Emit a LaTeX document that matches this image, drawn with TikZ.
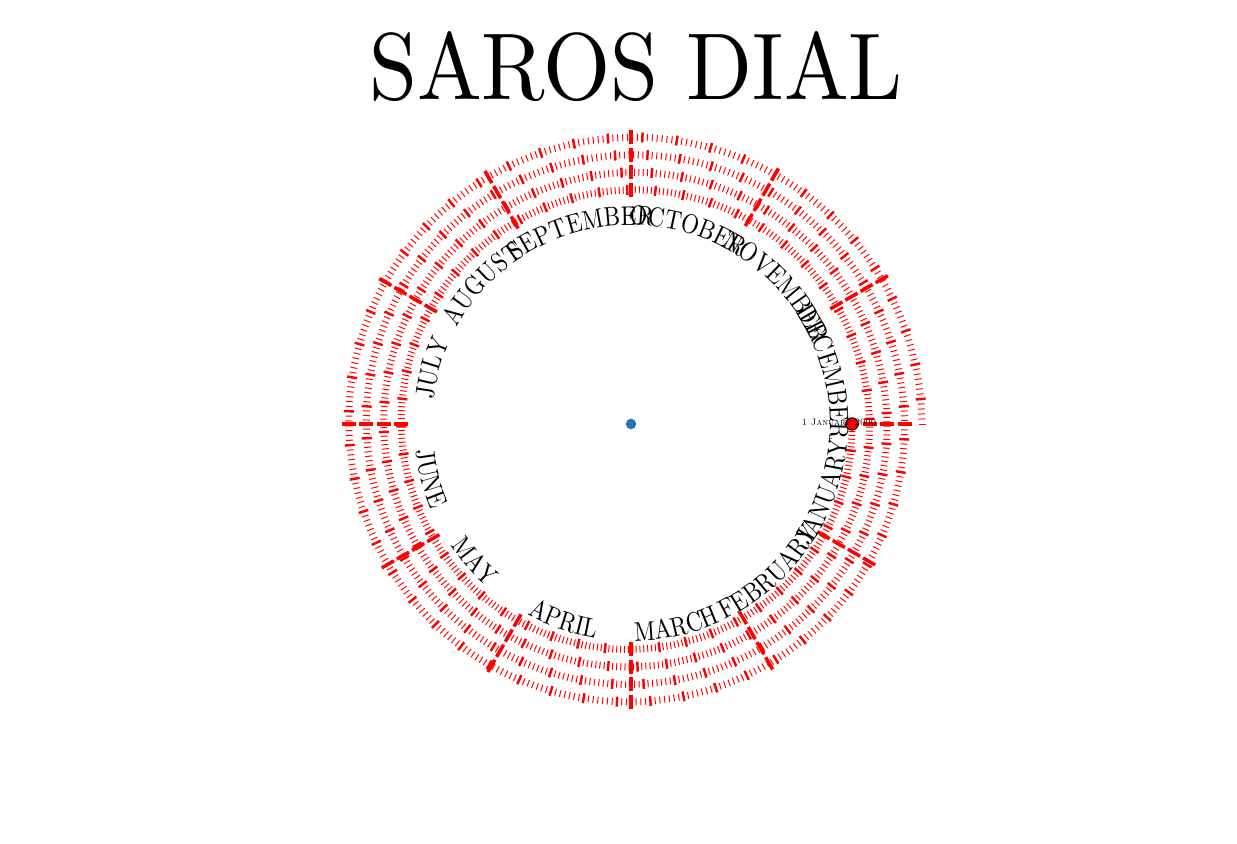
\documentclass[tikz,border=0pt]{standalone}
\usepackage{fontspec}
\usetikzlibrary{decorations.text}

\newfontfamily\lmtitulo{lmroman10-regular.otf}[FakeStretch=0.91]
\newfontfamily\lmmeses{lmroman10-regular.otf}[FakeStretch=0.845]
\newcommand\fontemes{\lmmeses\fontsize{15.4}{15.4}\selectfont}

\tikzset{
  dia/.style={red, line width=0.55pt},
  semana/.style={red, line width=1.4pt},
  mes/.style={red, line width=2pt},
  rotulo/.style={decorate, decoration={text along path, text align=left}},
}

\begin{document}
\begin{tikzpicture}[x=0.02cm,y=0.02cm]
  \useasboundingbox (0,0) rectangle (1237,844);

  % Titulo do mostrador.
  \node[font=\lmtitulo\fontsize{54}{54}\selectfont, anchor=base] (titulo) at (636,744) {SAROS DIAL};

  \begin{scope}[shift={(631,420)}]
    % Espiral de quatro voltas: um traco por dia.
    \foreach \d in {0,...,1461} {
      \pgfmathsetmacro\ang{-\d/365.25*360}
      \pgfmathsetmacro\ra{221+\d/1461*70-3.5}
      \pgfmathsetmacro\rb{\ra+7}
      \draw[dia] (\ang:\ra) -- (\ang:\rb);
    }

    % Tracos mais grossos a cada semana.
    \foreach \d in {0,7,...,1461} {
      \pgfmathsetmacro\ang{-\d/365.25*360}
      \pgfmathsetmacro\ra{221+\d/1461*70-5}
      \pgfmathsetmacro\rb{\ra+10}
      \draw[semana] (\ang:\ra) -- (\ang:\rb);
    }

    % Divisoes dos meses, de 30 em 30 graus.
    \foreach \m in {0,...,47} {
      \pgfmathsetmacro\ang{-30*\m}
      \pgfmathsetmacro\ra{221+\m/12*17.5-7}
      \pgfmathsetmacro\rb{\ra+14}
      \draw[mes] (\ang:\ra) -- (\ang:\rb);
    }

    % Nomes dos meses na metade de cima (sentido horario).
    \foreach \nome/\ini in {JULY/173,AUGUST/151,SEPTEMBER/125.5,OCTOBER/90.5,NOVEMBER/63,DECEMBER/34.5} {
      \path[rotulo, decoration={text/.expanded={|\noexpand\fontemes|\nome}}]
        (\ini:199) arc[start angle=\ini, end angle=\ini-70, radius=199];
    }

    % Nomes dos meses na metade de baixo (sentido anti-horario).
    \foreach \nome/\ini in {JANUARY/-34.5,FEBRUARY/-64.5,MARCH/-89,APRIL/-118.5,MAY/-146,JUNE/-173} {
      \path[rotulo, decoration={text/.expanded={|\noexpand\fontemes|\nome}}]
        (\ini:217) arc[start angle=\ini, end angle=\ini+70, radius=217];
    }

    % Inicio da espiral e centro.
    \node[circle, draw=black, fill=red, line width=0.6pt, inner sep=0pt, minimum size=7] (inicio) at (0:221) {};
    \node[circle, fill={rgb,255:red,31;green,119;blue,180}, inner sep=0pt, minimum size=6] (centro) at (0,0) {};
  \end{scope}

  % Data de referencia.
  \node[font=\fontsize{5.5}{5.5}\selectfont\scshape] (data) at (839,422) {1 January 2000};
\end{tikzpicture}
\end{document}
